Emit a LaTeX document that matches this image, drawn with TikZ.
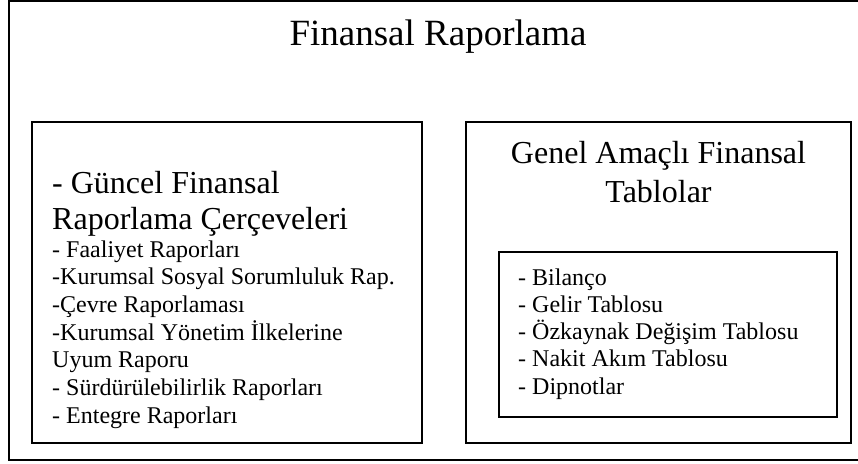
\documentclass[tikz,border=0pt]{standalone}
\usepackage{fontspec}
\setmainfont{Liberation Serif}
\usepackage{tikz}

\tikzset{
  box/.style={draw, line width=1.5pt},
  titletext/.style={font=\fontsize{37}{42}\selectfont},
  headtext/.style={font=\fontsize{32}{38}\selectfont},
  itemtext/.style={font=\fontsize{24}{28}\selectfont, inner sep=0pt}
}

\begin{document}
\begin{tikzpicture}[x=1pt, y=-1pt]
            \useasboundingbox (0,0) rectangle (858,463);
            % outer frame (right edge lies past the page)
            \draw[box] (9,1) rectangle (864,460);
            \node[titletext, anchor=base, inner sep=0pt] (title) at (438,45) {Finansal Raporlama};
            % left box
            \draw[box] (32,122) coordinate (lnw) rectangle (422,443) coordinate (lse);
            \node[headtext, anchor=base west, inner sep=0pt] (lhead1) at (52,193) {- Güncel Finansal};
            \node[headtext, anchor=base west, inner sep=0pt] (lhead2) at (52,229) {Raporlama Çerçeveleri};
            \foreach \txt [count=\i] in {- Faaliyet Raporları, -Kurumsal Sosyal Sorumluluk Rap., -Çevre Raporlaması, -Kurumsal Yönetim İlkelerine, Uyum Raporu, - Sürdürülebilirlik Raporları, - Entegre Raporları}
                \node[itemtext, anchor=base west] (litem\i) at (52,{257+27.7*(\i-1)}) {\txt};
            % right box
            \draw[box] (466,122) coordinate (rnw) rectangle (851,443) coordinate (rse);
            \node[headtext, anchor=base, inner sep=0pt] (rhead1) at (658.5,163) {Genel Amaçlı Finansal};
            \node[headtext, anchor=base, inner sep=0pt] (rhead2) at (658.5,202) {Tablolar};
            \draw[box] (499,252) coordinate (inw) rectangle (837,417) coordinate (ise);
            \foreach \txt [count=\i] in {- Bilanço, - Gelir Tablosu, - Özkaynak Değişim Tablosu, - Nakit Akım Tablosu, - Dipnotlar}
                \node[itemtext, anchor=base west] (ritem\i) at (518,{285+27.3*(\i-1)}) {\txt};
        \end{tikzpicture}
\end{document}
